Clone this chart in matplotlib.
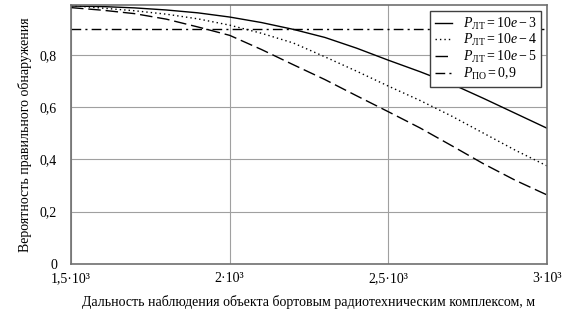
import numpy as np
import matplotlib
matplotlib.use('Agg')
import matplotlib.pyplot as plt

plt.rcParams['font.family'] = ['Liberation Serif', 'DejaVu Serif']
plt.rcParams['mathtext.fontset'] = 'custom'
plt.rcParams['mathtext.rm'] = 'Liberation Serif'
plt.rcParams['mathtext.it'] = 'Liberation Serif:italic'

# distance, m
dist = [1500, 1600, 1700, 1800, 1900, 2000, 2100, 2200, 2300, 2400,
        2500, 2600, 2700, 2800, 2900, 3000]
p_lt3 = [0.986, 0.984, 0.979, 0.971, 0.960, 0.944, 0.923, 0.897, 0.866, 0.825,
         0.779, 0.735, 0.688, 0.633, 0.576, 0.519]
p_lt4 = [0.988, 0.978, 0.968, 0.955, 0.937, 0.913, 0.882, 0.845, 0.792, 0.737,
         0.680, 0.625, 0.565, 0.500, 0.435, 0.375]
p_lt5 = [0.980, 0.970, 0.957, 0.936, 0.906, 0.874, 0.820, 0.762, 0.705, 0.643,
         0.582, 0.520, 0.452, 0.383, 0.320, 0.264]
p_po = 0.9

x_ticks = [1500, 2000, 2500, 3000]
x_labels = ['1,5·10³', '2·10³', '2,5·10³', '3·10³']
y_ticks = [0, 0.2, 0.4, 0.6, 0.8]
y_labels = ['0', '0,2', '0,4', '0,6', '0,8']

fig = plt.figure(figsize=(5.81, 3.17), dpi=100)
ax = fig.add_axes([71/581, 1-264/317, (547-71)/581, (264-5)/317])

ax.plot(dist, p_lt3, color='black', lw=1.0, label=r'$P_{\mathrm{ЛТ}}=10e-3$')
ax.plot(dist, p_lt4, color='black', lw=1.0, linestyle=(0, (1, 2.2)),
        label=r'$P_{\mathrm{ЛТ}}=10e-4$')
ax.plot(dist, p_lt5, color='black', lw=1.0, linestyle=(0, (9, 3.5)),
        label=r'$P_{\mathrm{ЛТ}}=10e-5$')
ax.plot([dist[0], dist[-1]], [p_po, p_po], color='black', lw=1.0,
        linestyle=(0, (7, 3, 1.5, 3)), label=r'$P_{\mathrm{ПО}}=0{,}9$')

ax.set_xlim(1500, 3000)
ax.set_ylim(0, 0.99)
ax.set_xticks(x_ticks)
ax.set_xticklabels(x_labels)
ax.set_yticks(y_ticks)
ax.set_yticklabels(y_labels)
ax.tick_params(length=0, labelsize=10)
ax.tick_params(axis='y', pad=10)
ax.tick_params(axis='x', pad=6)
ax.grid(True, color='#a0a0a0', lw=0.8)
for s in ax.spines.values():
    s.set_color('#707070')
    s.set_linewidth(1.2)

ax.set_xlabel('Дальность наблюдения объекта бортовым радиотехническим комплексом, м',
              fontsize=10, labelpad=7)
ax.set_ylabel('Вероятность правильного обнаружения', fontsize=10, labelpad=6)

leg = ax.legend(loc='upper right', fontsize=10, frameon=True, fancybox=False,
                handlelength=1.2, handletextpad=0.8, borderpad=0.35,
                labelspacing=0.05, borderaxespad=0.4)
leg.get_frame().set_edgecolor('#404040')
leg.get_frame().set_linewidth(1.0)
leg.get_frame().set_alpha(1)

fig.savefig('out.png', dpi=100, facecolor='white')
